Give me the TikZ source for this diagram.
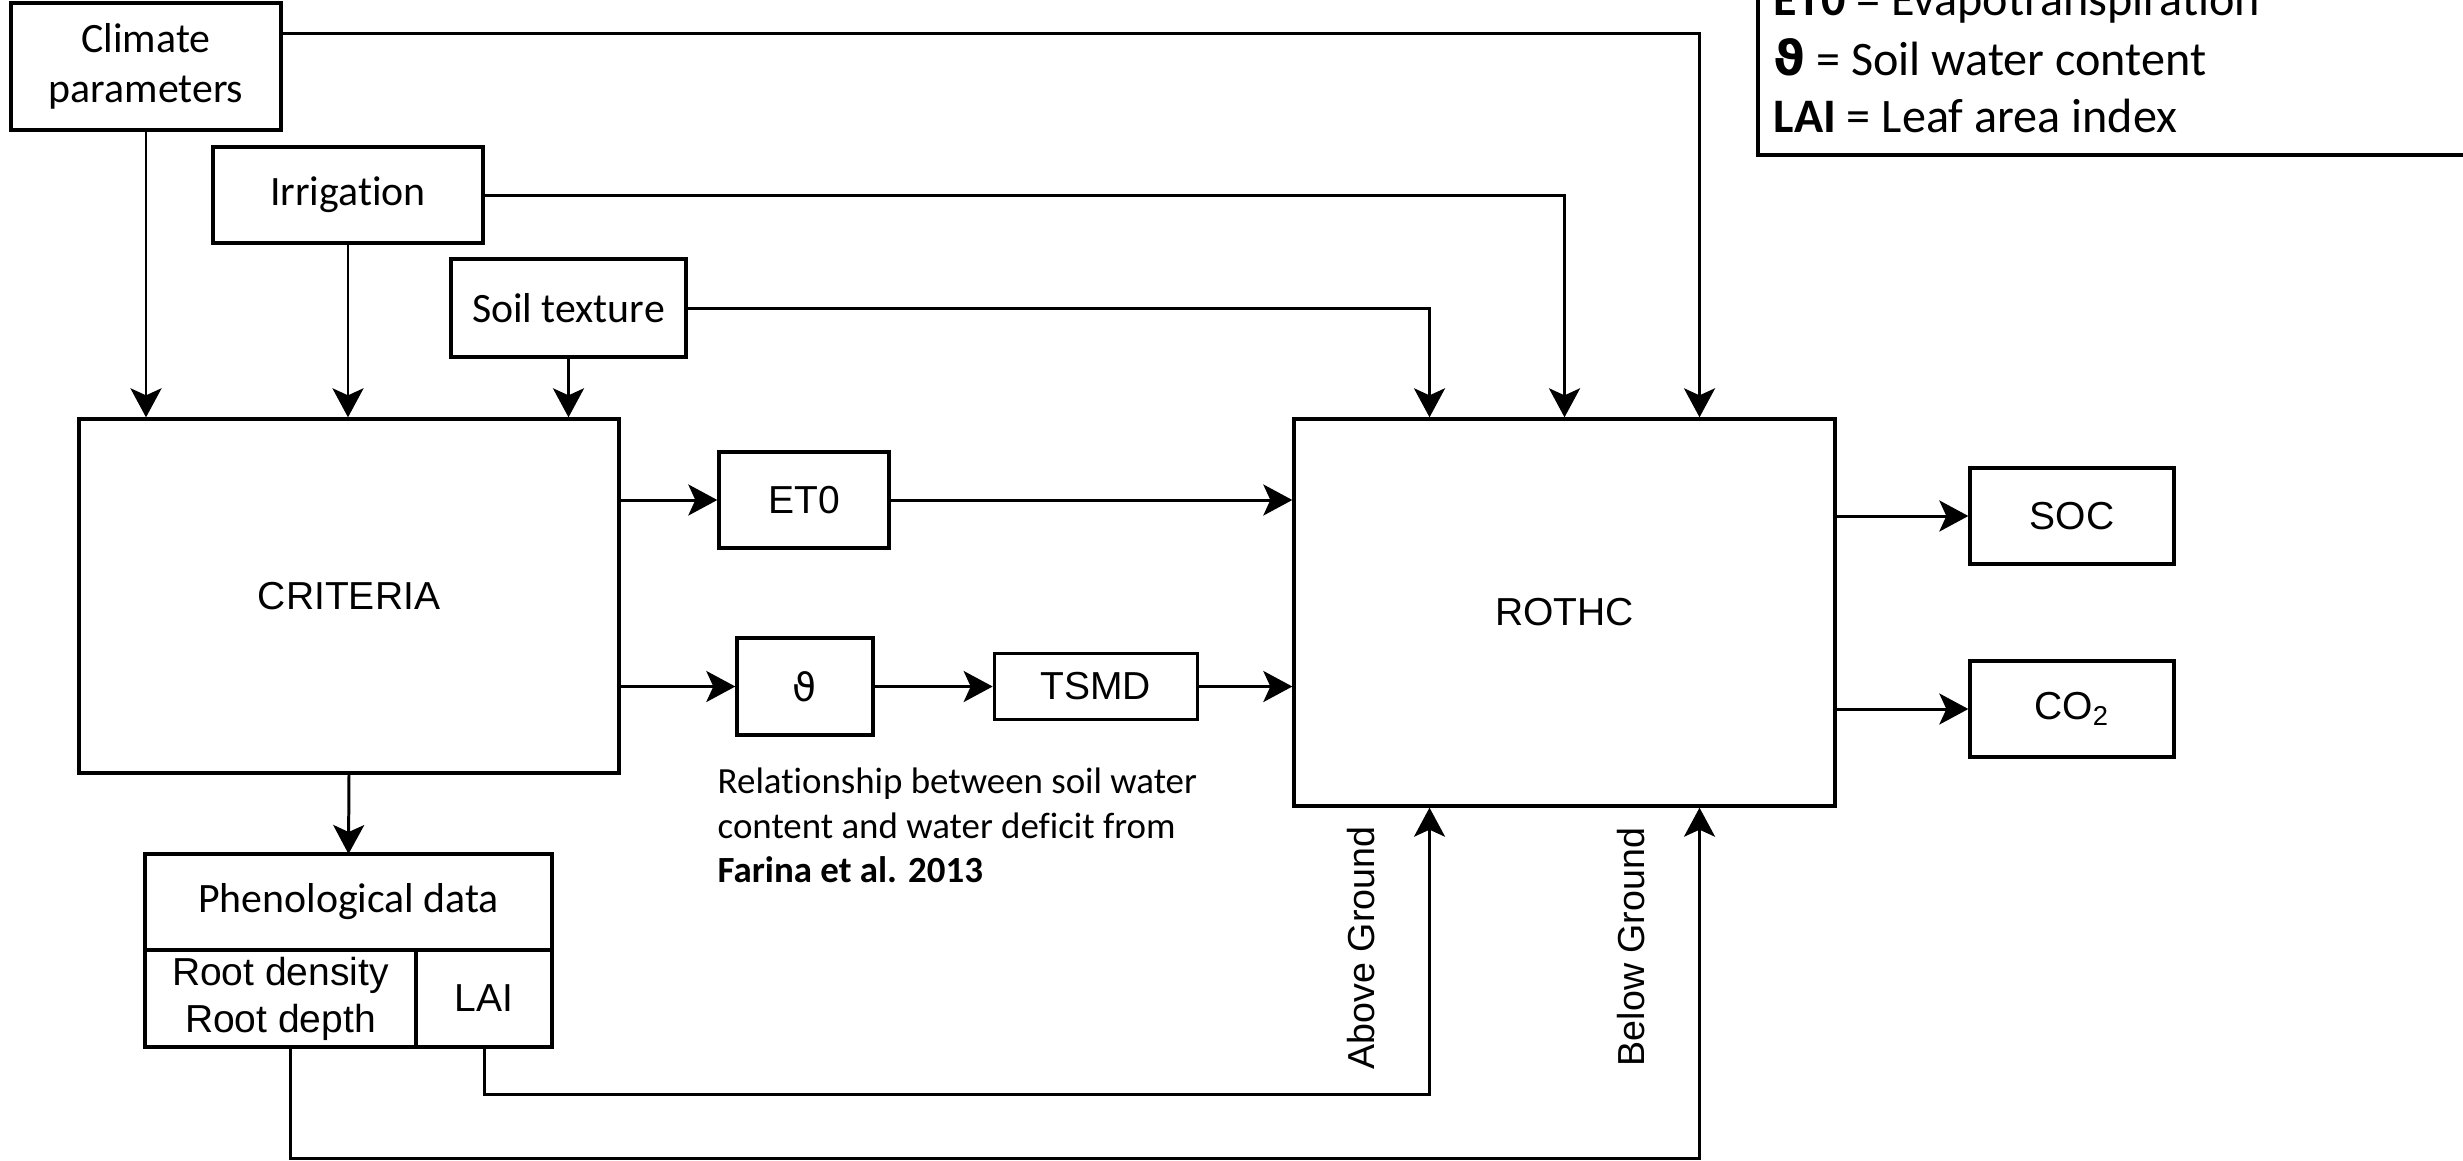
\documentclass[tikz,border=0pt]{standalone}
\usepackage{fontspec}
\setmainfont{Carlito}[Ligatures=NoCommon]
\newfontfamily\arialfont{Liberation Sans}
\newfontfamily\symfont{DejaVu Sans}
\usetikzlibrary{arrows.meta, positioning}
\usepackage{xcolor}

\begin{document}
\begin{tikzpicture}[
box/.style={draw, rectangle, line width=0.95pt, inner sep=0pt, align=center},
cbox/.style={box, font=\fontsize{11.9}{14.3}\selectfont},
abox/.style={box, font=\arialfont\fontsize{11.1}{13.4}\selectfont},
arrow/.style={-{Stealth[length=0.29cm, width=0.31cm, inset=0.07cm]}, line width=0.85pt},
flowlabel/.style={rotate=90, inner sep=0pt, font=\arialfont\fontsize{10.7}{12.8}\selectfont},
note/.style={anchor=base west, inner sep=0pt, font=\fontsize{10.5}{12.6}\selectfont},
legend/.style={anchor=base west, inner sep=0pt, font=\fontsize{13.7}{16.4}\selectfont}
]

\useasboundingbox (0,0) rectangle (24.63,-11.60);
\clip (0,0) rectangle (24.63,-11.60);

% inputs
\node[cbox, minimum width=2.70cm, minimum height=1.27cm] (climate) at (1.46,-0.665) {Climate\\parameters};
\node[cbox, minimum width=2.70cm, minimum height=0.96cm] (irrig) at (3.48,-1.95) {Irrigation};
\node[cbox, minimum width=2.35cm, minimum height=0.98cm] (soil) at (5.685,-3.08) {Soil texture};

% models
\node[abox, minimum width=5.40cm, minimum height=3.54cm] (criteria) at (3.49,-5.96) {CRITERIA};
\node[abox, minimum width=5.41cm, minimum height=3.87cm] (rothc) at (15.645,-6.125) {ROTHC};

% water balance
\node[abox, minimum width=1.70cm, minimum height=0.96cm] (et0) at (8.04,-5.00) {ET0};
\node[abox, minimum width=1.36cm, minimum height=0.97cm] (theta) at (8.05,-6.865) {\symfont ϑ};
\node[abox, minimum width=2.03cm, minimum height=0.66cm, right=1.18cm of theta] (tsmd) {TSMD};

% outputs
\node[abox, minimum width=2.04cm, minimum height=0.96cm] (soc) at (20.72,-5.16) {SOC};
\node[abox, minimum width=2.04cm, minimum height=0.96cm] (co2) at (20.72,-7.09) {CO\textsubscript{2}};

% phenology
\node[cbox, minimum width=4.07cm, minimum height=0.96cm, outer sep=0pt] (pheno) at (3.485,-9.02) {Phenological data};
\node[abox, minimum width=2.71cm, minimum height=0.97cm, outer sep=0pt, below right=0pt of pheno.south west] (root) {Root density\\Root depth};
\node[abox, minimum width=1.36cm, minimum height=0.97cm, outer sep=0pt, right=0pt of root] (lai) {LAI};

% legend
\draw[line width=0.9pt] (17.58,0.2) rectangle (25.0,-1.55);
\node[legend] (legET) at (17.73,-0.15) {\textbf{ET0} = Evapotranspiration};
\node[legend] (legtheta) at (17.73,-0.75) {{\symfont\bfseries ϑ} = Soil water content};
\node[legend] (legLAI) at (17.73,-1.32) {\textbf{LAI} = Leaf area index};

% note
\node[note] (note1) at (7.17,-7.93) {Relationship between soil water};
\node[note] (note2) at (7.17,-8.38) {content and water deficit from};
\node[note] (note3) at (7.17,-8.82) {\textbf{Farina et al. 2013}};

% labels
\node[flowlabel] (above) at (13.61,-9.48) {Above Ground};
\node[flowlabel] (below) at (16.31,-9.47) {Below Ground};

% connectors
\draw[arrow] ([yshift=0.33cm]climate.east) -| ([xshift=1.35cm]rothc.north);
\draw[arrow] (irrig.east) -| (rothc.north);
\draw[arrow] (soil.east) -| ([xshift=-1.35cm]rothc.north);
\draw[arrow] (climate.south) -- (climate.south |- criteria.north);
\draw[arrow] (irrig.south) -- (irrig.south |- criteria.north);
\draw[arrow] (soil.south) -- (soil.south |- criteria.north);
\draw[arrow] (criteria.east |- et0.west) -- (et0.west);
\draw[arrow] (et0.east) -- (et0.east -| rothc.west);
\draw[arrow] (criteria.east |- theta.west) -- (theta.west);
\draw[arrow] (theta.east) -- (tsmd.west);
\draw[arrow] (tsmd.east) -- (tsmd.east -| rothc.west);
\draw[arrow] (rothc.east |- soc.west) -- (soc.west);
\draw[arrow] (rothc.east |- co2.west) -- (co2.west);
\draw[arrow] (criteria.south) -- (pheno.north);
\draw[arrow] (lai.south) -- ++(0,-0.47) -| ([xshift=-1.35cm]rothc.south);
\draw[arrow] ([xshift=0.10cm]root.south) -- ++(0,-1.11) -| ([xshift=1.35cm]rothc.south);

\end{tikzpicture}
\end{document}
